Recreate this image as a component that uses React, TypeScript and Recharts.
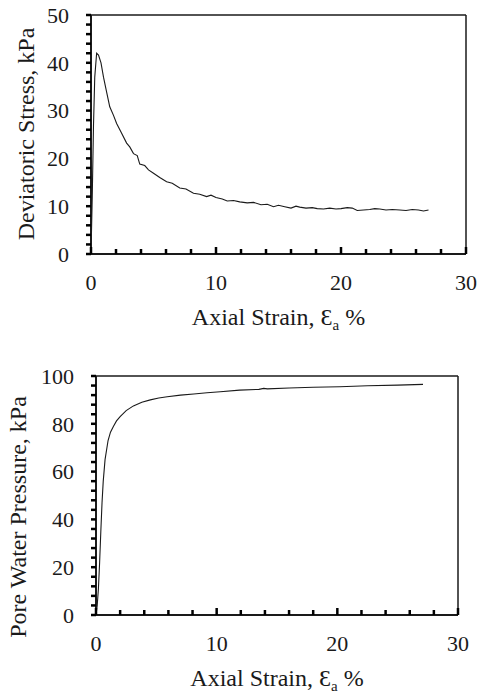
import React from "react";
import {
  LineChart,
  Line,
  XAxis,
  YAxis,
  ReferenceLine,
  Label,
} from "recharts";

// strain (%) vs deviatoric stress (kPa)
const strainTop = [
  0, 0.1, 0.2, 0.3, 0.45, 0.6, 0.8, 1.0, 1.2, 1.5, 1.8, 2.05, 2.4, 2.85, 3.1,
  3.4, 3.7, 3.9, 4.3, 4.6, 5.0, 5.5, 6.05, 6.5, 7.1, 7.6, 8.2, 8.7, 9.25, 9.6,
  10.0, 10.5, 10.9, 11.4, 11.9, 12.5, 13.0, 13.6, 14.1, 14.6, 15.0, 15.5, 16.0,
  16.4, 16.7, 17.2, 17.7, 18.1, 18.6, 19.1, 19.6, 20.0, 20.5, 20.9, 21.3, 21.8,
  22.3, 22.7, 23.1, 23.6, 24.1, 24.7, 25.2, 25.7, 26.2, 26.6, 27.0,
];
const stressTop = [
  0, 12, 27, 37, 42, 41.6, 40, 37, 34.5, 30.8, 29, 27.3, 25.5, 23.2, 22.4, 21,
  20.6, 18.8, 18.5, 17.6, 16.9, 16.0, 15.1, 14.8, 13.8, 13.6, 12.7, 12.5, 12.0,
  12.3, 11.8, 11.5, 11.1, 11.2, 10.9, 10.7, 10.8, 10.3, 10.4, 9.9, 10.2, 9.9,
  9.6, 10.0, 9.8, 9.6, 9.7, 9.5, 9.4, 9.6, 9.4, 9.5, 9.7, 9.6, 9.1, 9.2, 9.3,
  9.5, 9.4, 9.2, 9.3, 9.2, 9.1, 9.3, 9.2, 9.0, 9.2,
];

// strain (%) vs pore water pressure (kPa)
const strainBot = [
  0, 0.1, 0.2, 0.3, 0.4, 0.5, 0.6, 0.75, 1.0, 1.2, 1.45, 1.7, 2.0, 2.5, 3.1,
  3.8, 4.5, 5.2, 5.9, 7.0, 8.1, 9.2, 10.3, 11.9, 13.5, 13.9, 14.2, 16.0, 18.0,
  20.2, 22.5, 25.0, 27.1,
];
const pwpBot = [
  0, 4, 11, 22, 35, 47, 56, 65, 73, 76.5, 79, 81.2, 83, 85.5, 87.5, 89, 90,
  90.8, 91.3, 92, 92.5, 93, 93.4, 94.1, 94.4, 94.8, 94.6, 95, 95.3, 95.5, 95.9,
  96.2, 96.5,
];

const xTicks = [0, 2, 4, 6, 8, 10, 12, 14, 16, 18, 20, 22, 24, 26, 28, 30];
const yTicksTop = [0, 2, 4, 6, 8, 10, 12, 14, 16, 18, 20, 22, 24, 26, 28, 30, 32, 34, 36, 38, 40, 42, 44, 46, 48, 50];
const yTicksBot = [0, 4, 8, 12, 16, 20, 24, 28, 32, 36, 40, 44, 48, 52, 56, 60, 64, 68, 72, 76, 80, 84, 88, 92, 96, 100];

const topData = strainTop.map((s, i) => ({ strain: s, value: stressTop[i] }));
const botData = strainBot.map((s, i) => ({ strain: s, value: pwpBot[i] }));

const FONT = "Liberation Serif";
const INK = "#1a1a1a";
const TICK = "#000";

// x ticks point into the plot, majors a bit longer
const XTick = ({ x, y, payload }: any) => {
  const major = payload.value % 10 === 0;
  return (
    <g>
      <line x1={x} x2={x} y1={y} y2={y - (major ? 7 : 5)} stroke={TICK} strokeWidth={2.5} />
      {major && (
        <text x={x} y={y + 36} textAnchor="middle" style={{ fontFamily: FONT, fontSize: 22 }} fill={INK}>
          {payload.value}
        </text>
      )}
    </g>
  );
};

// y ticks use the axis' own tick lines, only majors get a label
const makeYTick = (step: number) => ({ x, y, payload }: any) =>
  payload.value % step === 0 ? (
    <text x={x - 17} y={y} dy="0.35em" textAnchor="end" style={{ fontFamily: FONT, fontSize: 22 }} fill={INK}>
      {payload.value}
    </text>
  ) : (
    <g />
  );

const XTitle = ({ viewBox }: any) => (
  <text
    x={viewBox.x + viewBox.width / 2}
    y={viewBox.y + 71}
    textAnchor="middle"
    style={{ fontFamily: FONT, fontSize: 24 }}
    fill={INK}
  >
    <tspan>Axial Strain, Ɛ</tspan>
    <tspan dy={5} style={{ fontSize: 15 }}>a</tspan>
    <tspan dy={-5}> %</tspan>
  </text>
);

const yTitle = (text: string, bx: number, cy: number) => () => (
  <text
    x={bx}
    y={cy}
    transform={`rotate(-90 ${bx} ${cy})`}
    textAnchor="middle"
    style={{ fontFamily: FONT, fontSize: 24 }}
    fill={INK}
  >
    {text}
  </text>
);

export default function App() {
  return (
    <div style={{ position: "absolute", left: 0, top: 0, width: 479, height: 695, background: "#fff" }}>
      <LineChart width={479} height={340} data={topData} margin={{ top: 15, right: 13, left: 0, bottom: 0 }}>
        <XAxis
          dataKey="strain"
          type="number"
          domain={[0, 30]}
          ticks={xTicks}
          interval={0}
          height={86}
          tickSize={0}
          tickMargin={0}
          tickLine={false}
          axisLine={{ stroke: INK, strokeWidth: 2 }}
          tick={<XTick />}
        >
          <Label content={<XTitle />} />
        </XAxis>
        <YAxis
          type="number"
          domain={[0, 50]}
          ticks={yTicksTop}
          interval={0}
          width={91}
          tickSize={5}
          tickMargin={0}
          tickLine={{ stroke: TICK, strokeWidth: 2.5 }}
          axisLine={{ stroke: INK, strokeWidth: 2 }}
          tick={makeYTick(10)}
        >
          <Label content={yTitle("Deviatoric Stress, kPa", 34, 134)} />
        </YAxis>
        <ReferenceLine y={50} stroke={INK} strokeWidth={1.5} />
        <ReferenceLine x={30} stroke={INK} strokeWidth={1.5} />
        <Line
          type="linear"
          dataKey="value"
          stroke={INK}
          strokeWidth={1.1}
          dot={false}
          isAnimationActive={false}
        />
      </LineChart>
      <LineChart width={479} height={355} data={botData} margin={{ top: 36, right: 21, left: 0, bottom: 0 }}>
        <XAxis
          dataKey="strain"
          type="number"
          domain={[0, 30]}
          ticks={xTicks}
          interval={0}
          height={80}
          tickSize={0}
          tickMargin={0}
          tickLine={false}
          axisLine={{ stroke: INK, strokeWidth: 2 }}
          tick={<XTick />}
        >
          <Label content={<XTitle />} />
        </XAxis>
        <YAxis
          type="number"
          domain={[0, 100]}
          ticks={yTicksBot}
          interval={0}
          width={96}
          tickSize={5}
          tickMargin={0}
          tickLine={{ stroke: TICK, strokeWidth: 2.5 }}
          axisLine={{ stroke: INK, strokeWidth: 2 }}
          tick={makeYTick(20)}
        >
          <Label content={yTitle("Pore Water Pressure, kPa", 26, 177)} />
        </YAxis>
        <ReferenceLine y={100} stroke={INK} strokeWidth={1.5} />
        <ReferenceLine x={30} stroke={INK} strokeWidth={1.5} />
        <Line
          type="linear"
          dataKey="value"
          stroke={INK}
          strokeWidth={1.1}
          dot={false}
          isAnimationActive={false}
        />
      </LineChart>
    </div>
  );
}
